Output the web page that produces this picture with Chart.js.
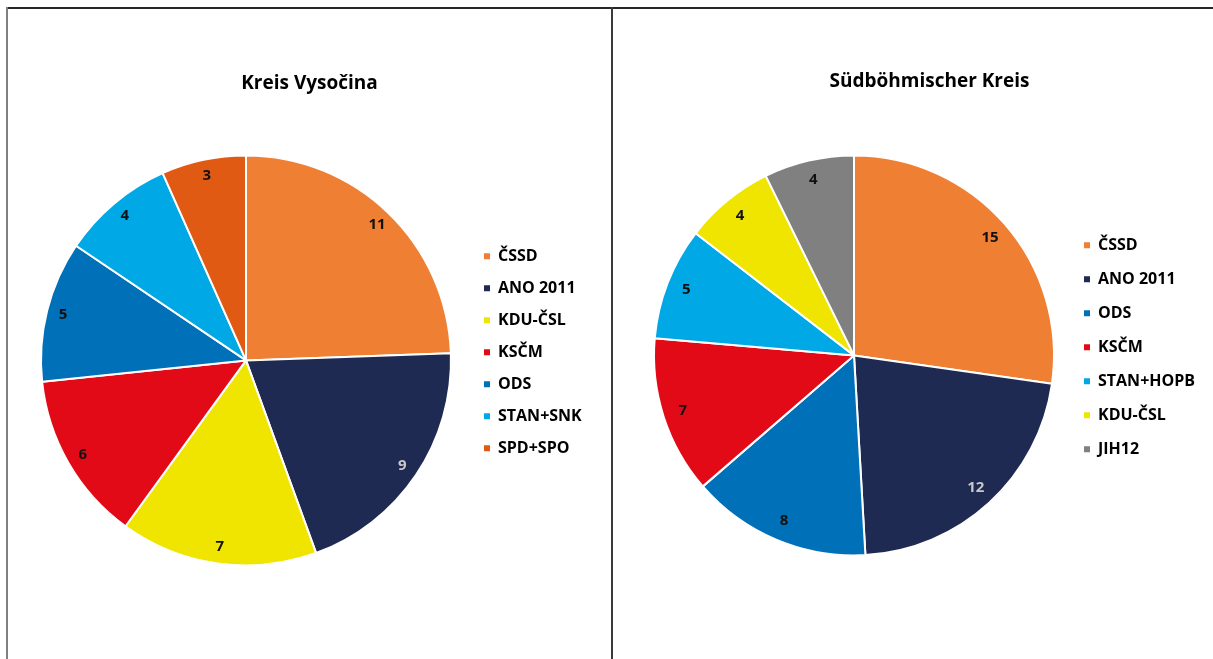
<!DOCTYPE html>
<html>
<head>
<meta charset="utf-8">
<script src="https://cdn.jsdelivr.net/npm/chart.js@4.4.1/dist/chart.umd.min.js"></script>
<style>
  html, body { margin: 0; padding: 0; background: #fff; overflow: hidden; width: 1213px; height: 659px; }
  .line { position: absolute; }
  .cv { position: absolute; }
</style>
</head>
<body>
<div class="line" style="left:6px; top:7px; width:1207px; height:2px; background:#262626;"></div>
<div class="line" style="left:6px; top:7px; width:2px; height:652px; background:#808080;"></div>
<div class="line" style="left:611px; top:7px; width:2px; height:652px; background:#3a3a3a;"></div>
<div class="cv" style="left:8px; top:9px; width:603px; height:650px;"><canvas id="left"></canvas></div>
<div class="cv" style="left:613px; top:9px; width:633px; height:650px;"><canvas id="right"></canvas></div>
<script>
// ---- data ----
const leftTitle = 'Kreis Vysočina';
const leftParties = ['ČSSD', 'ANO 2011', 'KDU-ČSL', 'KSČM', 'ODS', 'STAN+SNK', 'SPD+SPO'];
const leftSeats = [11, 9, 7, 6, 5, 4, 3];

const rightTitle = 'Südböhmischer Kreis';
const rightParties = ['ČSSD', 'ANO 2011', 'ODS', 'KSČM', 'STAN+HOPB', 'KDU-ČSL', 'JIH12'];
const rightSeats = [15, 12, 8, 7, 5, 4, 4];

// ---- styles ----
const partyColors = {
  'ČSSD': '#EE7F33', 'ANO 2011': '#1F2A52', 'KDU-ČSL': '#F0E500', 'KSČM': '#E20A17',
  'ODS': '#0070B8', 'STAN+SNK': '#00A8E6', 'STAN+HOPB': '#00A8E6', 'SPD+SPO': '#E05A14', 'JIH12': '#808080'
};
const labelColors = { 'ANO 2011': '#C8C8C8' };
const FONT = "'Open Sans', 'Noto Sans', sans-serif";

const sliceLabels = {
  id: 'sliceLabels',
  afterDatasetsDraw(chart, args, opts) {
    const ctx = chart.ctx;
    const meta = chart.getDatasetMeta(0);
    const data = chart.data.datasets[0].data;
    ctx.save();
    ctx.font = 'bold 15px ' + FONT;
    ctx.textAlign = 'center';
    ctx.textBaseline = 'middle';
    meta.data.forEach((arc, i) => {
      const p = arc.getProps(['x', 'y', 'startAngle', 'endAngle', 'outerRadius'], true);
      const mid = (p.startAngle + p.endAngle) / 2;
      const r = p.outerRadius * opts.frac;
      const lbl = chart.data.labels[i];
      ctx.fillStyle = labelColors[lbl] || '#111';
      ctx.fillText(String(data[i]), p.x + Math.cos(mid) * r, p.y + Math.sin(mid) * r);
    });
    ctx.restore();
  }
};

const legendWidth = {
  id: 'legendWidth',
  beforeUpdate(chart, args, opts) {
    const lg = chart.legend;
    if (lg && !lg._patched) {
      const orig = lg.fit;
      lg.fit = function () { orig.call(this); this.width = opts.width; };
      lg._patched = true;
    }
  }
};

function makePie(id, title, labels, values, cfg) {
  return new Chart(document.getElementById(id), {
    type: 'pie',
    data: {
      labels: labels,
      datasets: [{
        data: values,
        backgroundColor: labels.map(l => partyColors[l]),
        borderColor: '#ffffff',
        borderWidth: 2
      }]
    },
    options: {
      responsive: true,
      maintainAspectRatio: false,
      animation: false,
      radius: cfg.radius,
      layout: { padding: cfg.padding },
      plugins: {
        tooltip: { enabled: false },
        title: {
          display: true,
          text: title,
          color: '#000',
          font: { family: FONT, size: 19, weight: 'bold' },
          padding: { top: cfg.titleTop, bottom: 0 }
        },
        legend: {
          position: 'right',
          align: 'start',
          fullSize: false,
          title: { display: true, text: ' ', padding: { top: cfg.legendTop, bottom: 0 } },
          labels: {
            boxWidth: 6,
            boxHeight: 6,
            padding: cfg.legendPad,
            color: '#000',
            font: { family: FONT, size: 16, weight: 'bold' },
            generateLabels: (chart) => Chart.overrides.pie.plugins.legend.labels.generateLabels(chart)
              .map(item => Object.assign(item, { lineWidth: 0 }))
          }
        },
        legendWidth: { width: cfg.legendW },
        sliceLabels: { frac: cfg.frac }
      }
    },
    plugins: [sliceLabels, legendWidth]
  });
}

makePie('left', leftTitle, leftParties, leftSeats, {
  radius: 205, padding: { left: 16, right: 16, top: 0, bottom: 33 },
  titleTop: 63, legendTop: 123, legendPad: 16, legendW: 127, frac: 0.92
});
makePie('right', rightTitle, rightParties, rightSeats, {
  radius: 200, padding: { left: 29, right: 29, top: 0, bottom: 41 },
  titleTop: 61, legendTop: 112, legendPad: 18, legendW: 151, frac: 0.9
});
</script>
</body>
</html>
